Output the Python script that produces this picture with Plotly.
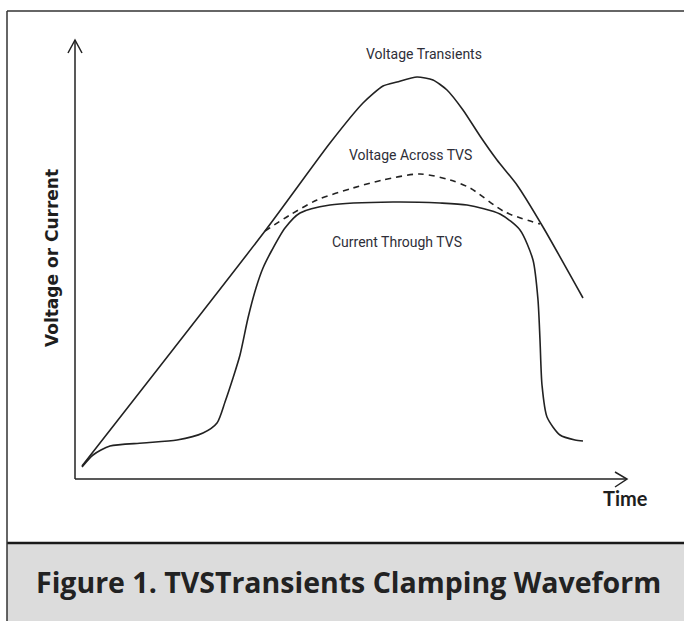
import plotly.graph_objects as go

# time / amplitude in arbitrary units, origin at the axis corner
vt_t = [7, 190, 255, 288, 308, 322, 342, 358, 372, 388, 405, 422, 442, 468, 508]
vt_v = [13, 248, 336, 376, 393, 397, 402, 399, 389, 369, 343, 319, 294, 252, 181]

va_t = [190, 215, 242, 278, 308, 345, 375, 395, 430, 465]
va_v = [248, 264, 279, 291, 299, 305, 299, 291, 267, 255]

ct_t = [7, 18, 35, 68, 102, 128, 142, 150, 158, 165, 173, 181, 188, 197, 210, 225,
        255, 318, 365, 392, 425, 445, 458, 463, 465, 467, 472, 485, 500, 508]
ct_v = [12, 24, 33, 36, 39, 46, 56, 77, 101, 124, 161, 191, 211, 229, 251, 266,
        274, 277, 276, 274, 265, 249, 219, 179, 139, 94, 62, 44, 39, 38]

W, H = 684, 621
X0, Y0 = 75, 479  # axis corner in pixels
ink = "#222222"

fig = go.Figure()

fig.add_trace(go.Scatter(x=vt_t, y=vt_v, mode="lines",
                         line=dict(color=ink, width=1.6, shape="spline", smoothing=0.6),
                         name="Voltage Transients", hoverinfo="skip"))
fig.add_trace(go.Scatter(x=va_t, y=va_v, mode="lines",
                         line=dict(color=ink, width=1.6, dash="6px,5px", shape="spline", smoothing=0.8),
                         name="Voltage Across TVS", hoverinfo="skip"))
fig.add_trace(go.Scatter(x=ct_t, y=ct_v, mode="lines",
                         line=dict(color=ink, width=1.6, shape="spline", smoothing=0.7),
                         name="Current Through TVS", hoverinfo="skip"))


def px(x):
    return x / W


def py(y):
    return 1 - y / H


shapes = [
    # gray caption band
    dict(type="rect", xref="paper", yref="paper", x0=px(7), x1=1.01, y0=-0.01, y1=py(543),
         fillcolor="#dcdcdc", line=dict(width=0), layer="below"),
    dict(type="line", xref="paper", yref="paper", x0=px(7), x1=1.01, y0=py(543), y1=py(543),
         line=dict(color="#1a1a1a", width=2.5)),
    # outer frame
    dict(type="line", xref="paper", yref="paper", x0=px(7), x1=1.01, y0=py(11), y1=py(11),
         line=dict(color="#333333", width=1.5)),
    dict(type="line", xref="paper", yref="paper", x0=px(7), x1=px(7), y0=py(11), y1=-0.01,
         line=dict(color="#333333", width=1.5)),
    # axes
    dict(type="line", xref="paper", yref="paper", x0=px(X0), x1=px(X0), y0=py(Y0), y1=py(40),
         line=dict(color=ink, width=1.5)),
    dict(type="line", xref="paper", yref="paper", x0=px(X0), x1=px(627), y0=py(Y0), y1=py(Y0),
         line=dict(color=ink, width=1.5)),
    # arrow heads
    dict(type="path", xref="paper", yref="paper",
         path=f"M {px(68)},{py(53)} L {px(75)},{py(40)} L {px(82)},{py(53)}",
         line=dict(color=ink, width=1.5)),
    dict(type="path", xref="paper", yref="paper",
         path=f"M {px(615)},{py(472)} L {px(627)},{py(479)} L {px(615)},{py(487)}",
         line=dict(color=ink, width=1.5)),
]

lbl_font = dict(family="Roboto, sans-serif", size=14, color="#2e2e38")
annotations = [
    dict(x=px(424), y=py(54), text="Voltage Transients", font=lbl_font),
    dict(x=px(410), y=py(155), text="Voltage Across TVS", font=lbl_font),
    dict(x=px(397), y=py(242), text="Current Through TVS", font=lbl_font),
    dict(x=px(52), y=py(258), text="<b>Voltage or Current</b>", textangle=-90,
         font=dict(family="DejaVu Sans, sans-serif", size=17, color="#1e1e1e")),
    dict(x=px(625), y=py(498), text="<b>Time</b>",
         font=dict(family="Lato, sans-serif", size=20, color="#1e1e1e")),
    dict(x=px(349), y=py(582), text="<b>Figure 1. TVSTransients Clamping Waveform</b>",
         font=dict(family="Open Sans, sans-serif", size=28.5, color="#222222")),
]
for a in annotations:
    a.update(xref="paper", yref="paper", showarrow=False, xanchor="center", yanchor="middle")

fig.update_layout(
    width=W, height=H,
    margin=dict(l=0, r=0, t=0, b=0),
    paper_bgcolor="white", plot_bgcolor="rgba(0,0,0,0)",
    showlegend=False,
    xaxis=dict(domain=[0, 1], range=[-X0, W - X0], visible=False),
    yaxis=dict(domain=[0, 1], range=[Y0 - H, Y0], visible=False),
    shapes=shapes,
    annotations=annotations,
)

fig.write_html("out.html", config={"displayModeBar": False},
               post_script="document.body.style.margin='0';document.body.style.overflow='hidden';")
